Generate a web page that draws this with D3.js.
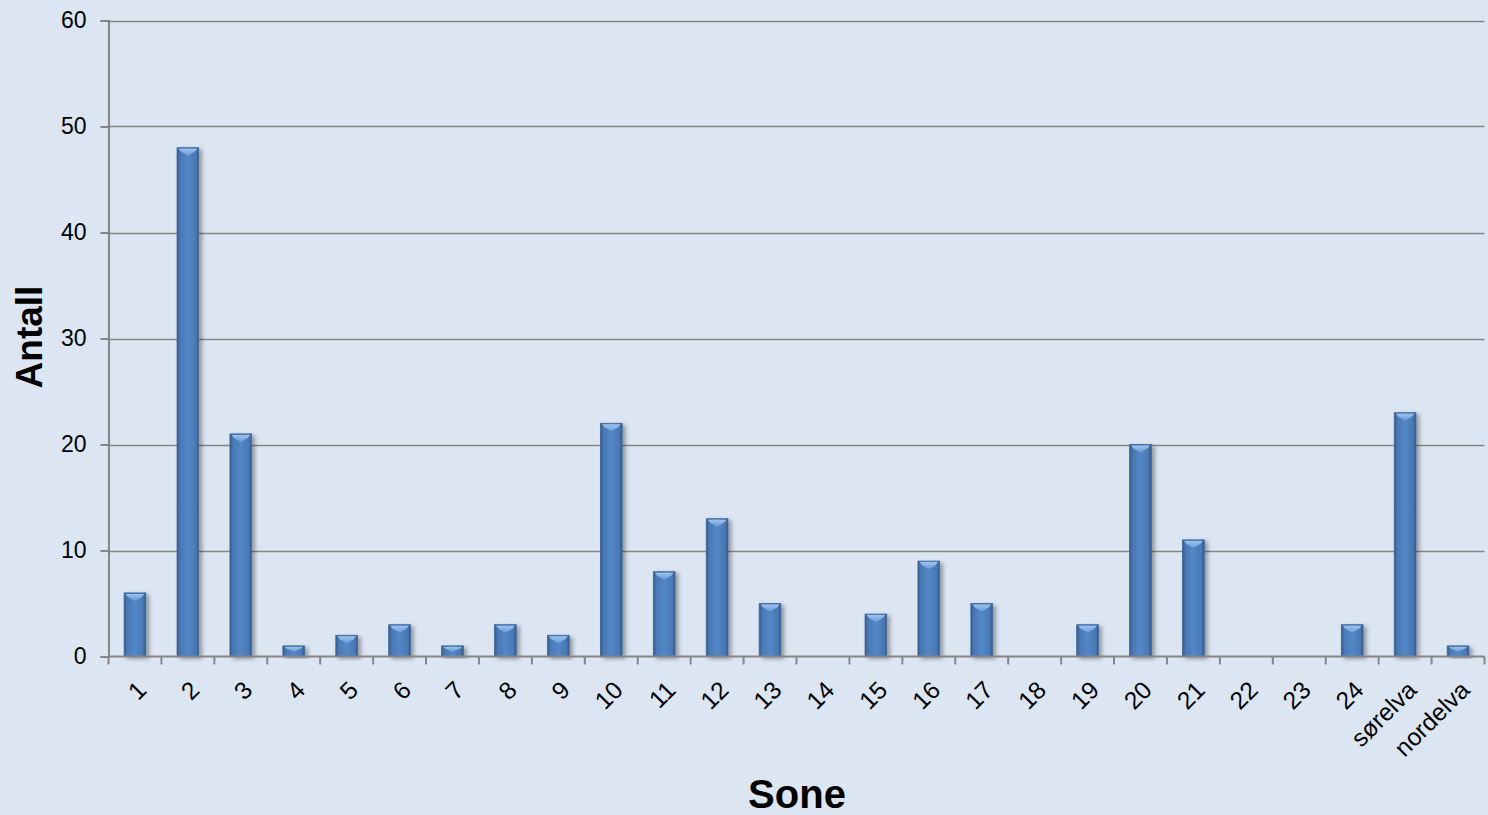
<!DOCTYPE html>
<html>
<head>
<meta charset="utf-8">
<script src="https://cdn.jsdelivr.net/npm/d3@7/dist/d3.min.js"></script>
<style>
  html, body { margin: 0; padding: 0; background: #dce6f2; }
  svg { display: block; }
</style>
</head>
<body>
<svg id="chart" width="1488" height="815"></svg>
<script>
// Number of registrations per zone
const zones = ["1","2","3","4","5","6","7","8","9","10","11","12","13","14","15","16","17","18","19","20","21","22","23","24","sørelva","nordelva"];
const counts = [6,48,21,1,2,3,1,3,2,22,8,13,5,0,4,9,5,0,3,20,11,0,0,3,23,1];
const yTicks = [0,10,20,30,40,50,60];

const W = 1488, H = 815;
const margin = { left: 108.5, right: 3.5, top: 20.5, bottom: 158.5 };

const svg = d3.select("#chart");
svg.append("rect").attr("width", W).attr("height", H).attr("fill", "#dce6f2");

const defs = svg.append("defs");
const side = defs.append("linearGradient").attr("id", "barSide")
  .attr("x1", "0%").attr("x2", "100%").attr("y1", "0%").attr("y2", "0%");
[["0%", "#34588a"], ["14%", "#4a79b5"], ["50%", "#5387c6"], ["86%", "#4a79b5"], ["100%", "#34588a"]]
  .forEach(([o, c]) => side.append("stop").attr("offset", o).attr("stop-color", c));

const cap = defs.append("linearGradient").attr("id", "barCap")
  .attr("x1", "0%").attr("x2", "0%").attr("y1", "0%").attr("y2", "100%");
[["0%", "#9cc3ee"], ["100%", "#6a9bd6"]]
  .forEach(([o, c]) => cap.append("stop").attr("offset", o).attr("stop-color", c));

const shadow = defs.append("filter").attr("id", "barShadow")
  .attr("x", "-30%").attr("y", "-10%").attr("width", "170%").attr("height", "130%");
shadow.append("feDropShadow").attr("dx", 3).attr("dy", 2).attr("stdDeviation", 2.2)
  .attr("flood-color", "#000").attr("flood-opacity", 0.35);

const x = d3.scaleBand().domain(zones)
  .range([margin.left, W - margin.right])
  .paddingInner(0.59).paddingOuter(0.295);
const y = d3.scaleLinear().domain([0, 60]).range([H - margin.bottom, margin.top]);

const step = x.step();
const bw = x.bandwidth();

// Horizontal gridlines
svg.append("g").selectAll("line").data(yTicks.filter(t => t > 0)).join("line")
  .attr("x1", margin.left).attr("x2", W - margin.right)
  .attr("y1", d => Math.round(y(d)) + 0.5).attr("y2", d => Math.round(y(d)) + 0.5)
  .attr("stroke", "#868686").attr("stroke-width", 1.6);

// Y axis
const yAxis = d3.axisLeft(y).tickValues(yTicks).tickSize(8).tickPadding(14);
const gy = svg.append("g").attr("transform", `translate(${margin.left},0)`).call(yAxis);
gy.select(".domain").attr("stroke", "#868686").attr("stroke-width", 2);
gy.selectAll(".tick line").attr("stroke", "#868686").attr("stroke-width", 2);
gy.selectAll(".tick text").attr("font-family", "Liberation Sans, Arial, sans-serif")
  .attr("font-size", 23).attr("fill", "#000");

// Bars
const bars = svg.append("g").selectAll("g.bar")
  .data(zones.map((z, i) => ({ z, v: counts[i] })).filter(d => d.v > 0))
  .join("g").attr("class", "bar").attr("filter", "url(#barShadow)");

bars.append("rect")
  .attr("x", d => x(d.z)).attr("width", bw)
  .attr("y", d => y(d.v)).attr("height", d => y(0) - y(d.v))
  .attr("fill", "url(#barSide)")
  .attr("stroke", "#3f6797").attr("stroke-width", 0.8);

bars.append("path")
  .attr("d", d => {
    const x0 = x(d.z), x1 = x0 + bw, t = y(d.v);
    const h = Math.min(8, (y(0) - t) * 0.55);
    return `M${x0 + 1.5},${t + 1} L${x1 - 1.5},${t + 1} L${x1 - 4},${t + h * 0.5} L${x0 + bw / 2},${t + h} L${x0 + 4},${t + h * 0.5} Z`;
  })
  .attr("fill", "url(#barCap)");

// X axis
const xAxisY = y(0);
const gx = svg.append("g");
gx.append("line")
  .attr("x1", margin.left).attr("x2", W - margin.right)
  .attr("y1", xAxisY).attr("y2", xAxisY)
  .attr("stroke", "#868686").attr("stroke-width", 2);
const boundaries = d3.range(zones.length + 1).map(i => margin.left + i * step);
gx.selectAll("line.tick").data(boundaries).join("line").attr("class", "tick")
  .attr("x1", d => d).attr("x2", d => d)
  .attr("y1", xAxisY).attr("y2", xAxisY + 8)
  .attr("stroke", "#868686").attr("stroke-width", 2);

gx.selectAll("text").data(zones).join("text")
  .attr("transform", d => `translate(${x(d) + bw / 2 + 7},${xAxisY + 29}) rotate(-45)`)
  .attr("text-anchor", "end")
  .attr("dominant-baseline", "central")
  .attr("font-family", "Liberation Sans, Arial, sans-serif")
  .attr("font-size", 24.5).attr("fill", "#000")
  .text(d => d);

// Axis titles
svg.append("text")
  .attr("x", 797).attr("y", 808)
  .attr("text-anchor", "middle")
  .attr("font-family", "Liberation Sans, Arial, sans-serif")
  .attr("font-weight", "bold").attr("font-size", 40)
  .text("Sone");

svg.append("text")
  .attr("transform", `translate(42,337) rotate(-90)`)
  .attr("text-anchor", "middle")
  .attr("font-family", "Liberation Sans, Arial, sans-serif")
  .attr("font-weight", "bold").attr("font-size", 37)
  .text("Antall");
</script>
</body>
</html>
